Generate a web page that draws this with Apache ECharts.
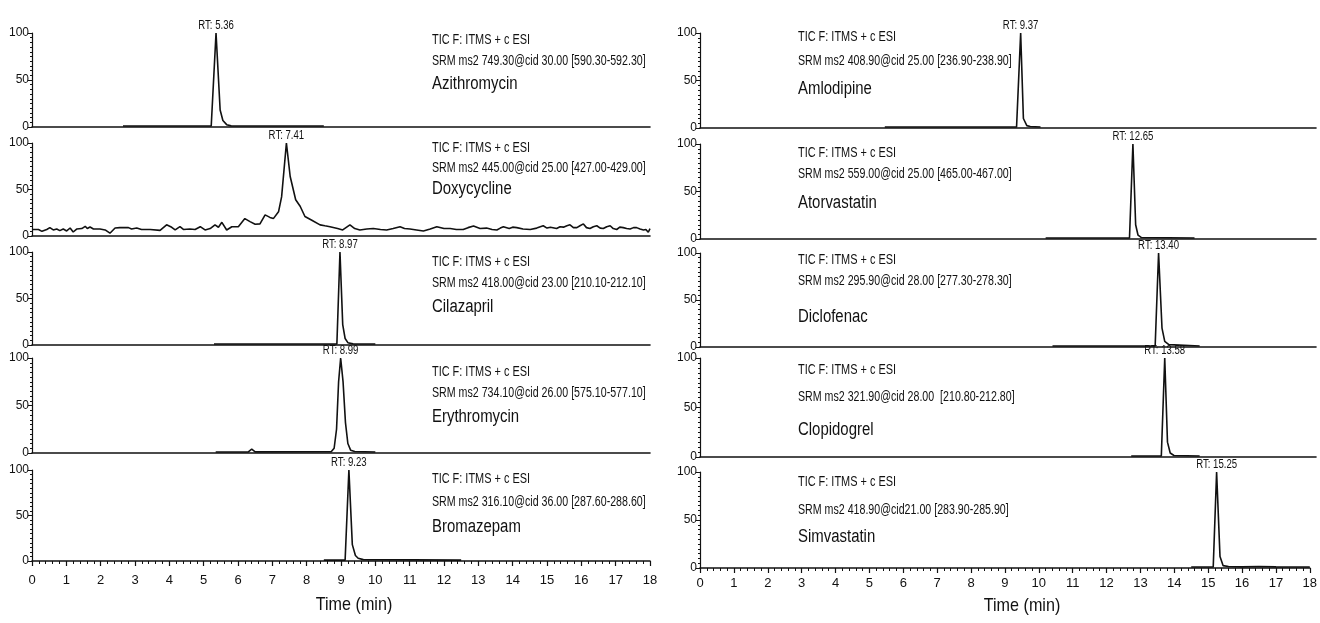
<!DOCTYPE html>
<html>
<head>
<meta charset="utf-8">
<script src="https://cdn.jsdelivr.net/npm/echarts@6/dist/echarts.min.js"></script>
<style>
  html, body { margin: 0; padding: 0; background: #fff; }
  #chart { width: 1320px; height: 623px; }
</style>
</head>
<body>
<div id="chart"></div>
<script>
// Compound names, retention times and acquisition lines for the ten SRM traces
const compoundNames = ['Azithromycin', 'Doxycycline', 'Cilazapril', 'Erythromycin', 'Bromazepam',
                       'Amlodipine', 'Atorvastatin', 'Diclofenac', 'Clopidogrel', 'Simvastatin'];
const retentionTimes = [5.36, 7.41, 8.97, 8.99, 9.23, 9.37, 12.65, 13.40, 13.58, 15.25];
const scanLine = 'TIC F: ITMS + c ESI';
const srmLines = [
  'SRM ms2 749.30@cid 30.00 [590.30-592.30]',
  'SRM ms2 445.00@cid 25.00 [427.00-429.00]',
  'SRM ms2 418.00@cid 23.00 [210.10-212.10]',
  'SRM ms2 734.10@cid 26.00 [575.10-577.10]',
  'SRM ms2 316.10@cid 36.00 [287.60-288.60]',
  'SRM ms2 408.90@cid 25.00 [236.90-238.90]',
  'SRM ms2 559.00@cid 25.00 [465.00-467.00]',
  'SRM ms2 295.90@cid 28.00 [277.30-278.30]',
  'SRM ms2 321.90@cid 28.00  [210.80-212.80]',
  'SRM ms2 418.90@cid21.00 [283.90-285.90]'
];
const axisTitle = 'Time (min)';
const timeTicks = [0, 1, 2, 3, 4, 5, 6, 7, 8, 9, 10, 11, 12, 13, 14, 15, 16, 17, 18];
const intensityTicks = [0, 50, 100];

// Relative abundance (%) against time (min)
const azithromycin = [[2.65,1],[5.22,1],[5.36,100],[5.48,18],[5.56,7],[5.67,2.5],[5.8,1.2],[8.5,1]];
const doxycycline = [
  [0.0,7],[0.19,7],[0.29,5],[0.43,7],[0.52,9],[0.62,6.5],[0.72,7.5],[0.81,5.8],[0.91,7.5],[1.01,5.4],
  [1.11,8.6],[1.2,4.3],[1.3,7.5],[1.45,8],[1.55,10.4],[1.61,8],[1.69,9.7],[1.79,7.5],[1.98,7.5],[2.13,6.5],
  [2.27,3],[2.42,8.6],[2.56,9],[2.81,9],[2.9,7.5],[3.05,8.6],[3.19,7],[3.44,7],[3.73,6],[3.92,12],
  [4.07,9.4],[4.17,6.5],[4.31,10],[4.41,7],[4.6,7.5],[4.75,7],[4.9,10],[5.04,6.5],[5.19,8],[5.33,12],
  [5.43,9.4],[5.53,14.7],[5.67,6.5],[5.82,10],[6.01,10],[6.06,9.4],[6.2,18.7],[6.35,15.5],[6.5,12.6],[6.64,13],
  [6.79,22.7],[6.93,20],[7.03,18.7],[7.18,26],[7.27,42],[7.41,100],[7.52,64],[7.68,39],[7.81,32],[7.95,21],
  [8.15,17],[8.39,12],[8.53,11],[8.68,10],[8.9,8],[9.05,6.5],[9.26,12],[9.4,8],[9.55,6.5],[9.75,7.5],
  [9.94,8],[10.15,7],[10.33,6.5],[10.52,8],[10.72,10],[10.85,8],[11.01,7.5],[11.2,6.5],[11.4,5.4],[11.6,7.5],
  [11.79,10],[12.0,8],[12.18,8],[12.36,7],[12.56,7],[12.7,9],[12.86,10.8],[13.05,8],[13.24,8.5],[13.4,7],
  [13.54,6.5],[13.64,8.5],[13.73,10],[13.9,8],[14.0,9.5],[14.12,9],[14.3,7.5],[14.51,7],[14.7,8.5],[14.89,11],
  [15.0,8.5],[15.1,9.5],[15.28,8],[15.38,10],[15.48,9.5],[15.58,11],[15.67,12],[15.77,9],[15.87,9],[15.96,11],
  [16.06,13],[16.15,9],[16.25,8],[16.35,10],[16.45,11],[16.55,8.5],[16.64,8],[16.74,10],[16.84,11],[16.93,8],
  [17.03,7],[17.12,9.5],[17.22,9],[17.32,8],[17.42,7.5],[17.52,9],[17.61,9],[17.71,7.5],[17.81,6.5],[17.88,7],
  [17.95,4],[18.0,8]
];
const cilazapril = [[5.3,1],[8.88,1],[8.97,100],[9.05,22],[9.12,7],[9.2,2.5],[9.35,1.2],[10.0,1]];
const erythromycin = [[5.35,1],[6.3,1.2],[6.4,4],[6.5,1.2],[8.72,1.5],[8.8,5],[8.87,25],[8.93,75],[8.99,100],
  [9.06,75],[9.13,32],[9.2,10],[9.28,3],[9.4,1.5],[10.0,1]];
const bromazepam = [[8.5,1],[9.12,1],[9.23,100],[9.33,18],[9.42,6],[9.5,3],[9.65,1.5],[12.5,1]];
const amlodipine = [[5.4,1],[9.25,1],[9.37,100],[9.45,10],[9.55,2.5],[9.65,1.5],[9.95,1]];
const atorvastatin = [[10.1,1],[12.55,1],[12.65,100],[12.73,15],[12.8,4],[12.9,1.5],[14.45,1]];
const diclofenac = [[10.3,1],[13.3,1],[13.40,100],[13.5,20],[13.58,6],[13.7,2.5],[14.6,1]];
const clopidogrel = [[12.6,1],[13.48,1],[13.58,100],[13.66,15],[13.74,4],[13.85,1.5],[14.6,1]];
const simvastatin = [[14.5,1],[15.15,1],[15.25,100],[15.35,12],[15.44,2.5],[15.6,1.5],[16.0,1.2],[16.5,1.5],
  [17.0,1.2],[18.0,1]];

const traces = [azithromycin, doxycycline, cilazapril, erythromycin, bromazepam,
                amlodipine, atorvastatin, diclofenac, clopidogrel, simvastatin];

// Panel geometry: [left, plot right edge, top, bottom] in pixels
const panels = [
  [32, 650, 33, 127], [32, 650, 143, 236], [32, 650, 252, 345], [32, 650, 358, 453], [32, 650, 470, 561],
  [700, 1316, 33, 128], [700, 1316, 144, 239], [700, 1316, 253, 347], [700, 1316, 358, 457], [700, 1316, 472, 568]
];
// Text block anchors (vertical centres): [x, scan line, SRM line, compound name]
const textPos = [
  [432, 40, 61, 84], [432, 148, 168, 189], [432, 262, 283, 307], [432, 372, 393, 417], [432, 479, 502, 527],
  [798, 37, 61, 89], [798, 153, 174, 203], [798, 260, 281, 317], [798, 370, 397, 430], [798, 482, 510, 537]
];
const axisTitlePos = [[354, 605], [1022, 606]];

const FONT = '"Liberation Sans", Arial, sans-serif';
const INK = '#111';

const grids = [], xAxes = [], yAxes = [], series = [], graphics = [];

function narrowText(x, y, text, size, squeeze, align) {
  return {
    type: 'text', x: x, y: y, scaleX: squeeze, silent: true,
    style: { text: text, fill: INK, font: size + 'px ' + FONT, textAlign: align || 'left', textVerticalAlign: 'middle' }
  };
}

panels.forEach((p, i) => {
  const isBottom = (i % 5) === 4;
  const rightCol = i >= 5;
  grids.push({ left: p[0], width: p[1] - p[0], top: p[2], height: p[3] - p[2], containLabel: false });
  xAxes.push({
    type: 'value', gridIndex: i, min: timeTicks[0], max: timeTicks[timeTicks.length - 1], interval: 1,
    axisLine: { show: true, onZero: false, lineStyle: { color: INK, width: 1.6 } },
    axisTick: { show: isBottom, length: 5, lineStyle: { color: INK, width: 1.2 } },
    minorTick: { show: isBottom, splitNumber: 5, length: 3, lineStyle: { color: INK, width: 1 } },
    axisLabel: { show: isBottom, color: INK, fontFamily: FONT, fontSize: 13, margin: rightCol ? 9 : 13 },
    splitLine: { show: false }
  });
  yAxes.push({
    type: 'value', gridIndex: i, min: intensityTicks[0], max: intensityTicks[2], interval: 50,
    axisLine: { show: true, lineStyle: { color: INK, width: 1.2 } },
    axisTick: { show: true, length: 4, lineStyle: { color: INK, width: 1 } },
    minorTick: { show: true, splitNumber: 10, length: 2, lineStyle: { color: INK, width: 1 } },
    axisLabel: { color: INK, fontFamily: FONT, fontSize: 12, margin: 3 },
    splitLine: { show: false }
  });
  series.push({
    type: 'line', xAxisIndex: i, yAxisIndex: i, data: traces[i],
    showSymbol: false, symbol: 'none', smooth: false,
    lineStyle: { color: INK, width: 1.6 }
  });
  const t = textPos[i];
  graphics.push(
    narrowText(t[0], t[1], scanLine, 14, 0.78),
    narrowText(t[0], t[2], srmLines[i], 14, 0.76),
    narrowText(t[0], t[3], compoundNames[i], 18, 0.83)
  );
});

axisTitlePos.forEach(pos => graphics.push(narrowText(pos[0], pos[1], axisTitle, 19, 0.85, 'center')));

const chart = echarts.init(document.getElementById('chart'), null, { renderer: 'canvas' });
chart.setOption({
  animation: false,
  backgroundColor: '#fff',
  grid: grids,
  xAxis: xAxes,
  yAxis: yAxes,
  series: series
});

// Retention-time labels sit just above each apex, placed through the panel's own scales
retentionTimes.forEach((rt, i) => {
  const pt = chart.convertToPixel({ gridIndex: i }, [rt, 100]);
  graphics.push(narrowText(pt[0], pt[1] - 7, 'RT: ' + rt.toFixed(2), 12, 0.8, 'center'));
});
chart.setOption({ graphic: graphics });
</script>
</body>
</html>
